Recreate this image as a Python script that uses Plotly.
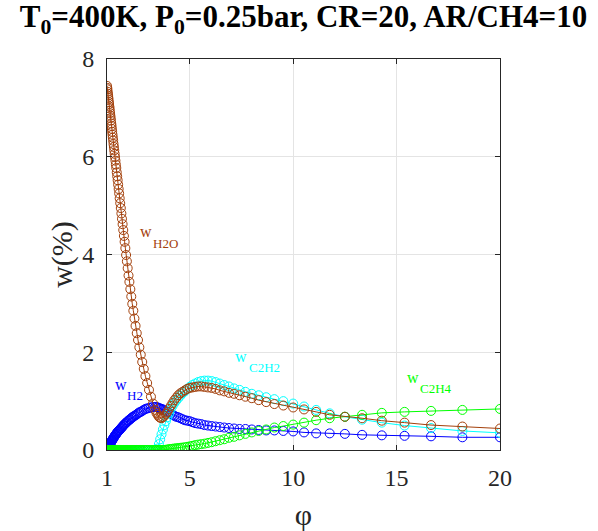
import plotly.graph_objects as go

# equivalence ratio grid (decreasing)
phi = [20, 18.182, 16.667, 15.385, 14.286, 13.333, 12.5, 11.765, 11.111, 10.526,
       10, 9.524, 9.091, 8.696, 8.333, 8, 7.692, 7.407, 7.143, 6.897,
       6.667, 6.452, 6.25, 6.061, 5.882, 5.714, 5.556, 5.405, 5.263, 5.128,
       5, 4.878, 4.762, 4.651, 4.545, 4.444, 4.348, 4.255, 4.167, 4.082,
       4, 3.922, 3.846, 3.774, 3.704, 3.636, 3.571, 3.509, 3.448, 3.390,
       3.333, 3.226, 3.125, 3.030, 2.941, 2.857, 2.778, 2.703, 2.632, 2.564,
       2.5, 2.439, 2.381, 2.326, 2.273, 2.222, 2.174, 2.128, 2.083, 2.041,
       2, 1.961, 1.923, 1.887, 1.852, 1.818, 1.786, 1.754, 1.724, 1.695,
       1.667, 1.639, 1.613, 1.587, 1.563, 1.538, 1.515, 1.493, 1.471, 1.449,
       1.429, 1.408, 1.389, 1.370, 1.351, 1.333, 1.316, 1.299, 1.282, 1.266,
       1.25, 1.235, 1.220, 1.205, 1.190, 1.176, 1.163, 1.149, 1.136, 1.124,
       1.111, 1.099, 1.087, 1.075, 1.064, 1.053, 1.042, 1.031, 1.020, 1.010,
       1]

w_h2o = [0.44, 0.48, 0.51, 0.56, 0.60, 0.65, 0.68, 0.72, 0.78, 0.83,
         0.87, 0.91, 0.94, 0.98, 1.02, 1.06, 1.09, 1.12, 1.15, 1.17,
         1.20, 1.22, 1.25, 1.27, 1.28, 1.29, 1.30, 1.30, 1.29, 1.28,
         1.27, 1.25, 1.22, 1.19, 1.16, 1.12, 1.07, 1.02, 0.96, 0.90,
         0.84, 0.78, 0.74, 0.70, 0.67, 0.65, 0.66, 0.68, 0.72, 0.76,
         0.82, 0.95, 1.09, 1.23, 1.37, 1.51, 1.66, 1.80, 1.95, 2.10,
         2.25, 2.39, 2.54, 2.69, 2.85, 2.99, 3.14, 3.29, 3.44, 3.57,
         3.72, 3.86, 3.99, 4.13, 4.26, 4.38, 4.50, 4.62, 4.73, 4.84,
         4.95, 5.05, 5.15, 5.25, 5.34, 5.43, 5.52, 5.60, 5.68, 5.77,
         5.84, 5.92, 5.99, 6.06, 6.13, 6.20, 6.26, 6.33, 6.39, 6.45,
         6.51, 6.57, 6.63, 6.68, 6.74, 6.79, 6.84, 6.89, 6.94, 6.99,
         7.03, 7.08, 7.12, 7.17, 7.21, 7.25, 7.29, 7.33, 7.38, 7.41,
         7.45]

w_h2 = [0.26, 0.26, 0.28, 0.29, 0.30, 0.31, 0.33, 0.34, 0.34, 0.36,
        0.38, 0.39, 0.40, 0.40, 0.41, 0.42, 0.43, 0.43, 0.44, 0.45,
        0.46, 0.47, 0.48, 0.49, 0.50, 0.51, 0.53, 0.54, 0.55, 0.57,
        0.59, 0.60, 0.61, 0.63, 0.65, 0.67, 0.68, 0.70, 0.72, 0.74,
        0.76, 0.78, 0.80, 0.81, 0.83, 0.84, 0.85, 0.86, 0.87, 0.88,
        0.88, 0.88, 0.87, 0.86, 0.85, 0.84, 0.82, 0.80, 0.78, 0.77,
        0.75, 0.73, 0.71, 0.70, 0.68, 0.67, 0.65, 0.63, 0.62, 0.60,
        0.59, 0.57, 0.56, 0.54, 0.53, 0.51, 0.50, 0.48, 0.47, 0.45,
        0.44, 0.43, 0.41, 0.40, 0.39, 0.38, 0.37, 0.36, 0.34, 0.33,
        0.32, 0.31, 0.30, 0.28, 0.27, 0.26, 0.25, 0.24, 0.22, 0.21,
        0.20, 0.19, 0.18, 0.17, 0.15, 0.14, 0.13, 0.12, 0.11, 0.10,
        0.09, 0.08, 0.07, 0.06, 0.05, 0.04, 0.03, 0.02, 0.01, 0.005,
        0.0]

w_c2h2 = [0.35, 0.39, 0.45, 0.50, 0.56, 0.62, 0.68, 0.75, 0.82, 0.89,
          0.95, 1.00, 1.04, 1.08, 1.12, 1.15, 1.19, 1.23, 1.26, 1.30,
          1.33, 1.36, 1.39, 1.41, 1.42, 1.42, 1.41, 1.39, 1.36, 1.33,
          1.29, 1.25, 1.20, 1.16, 1.11, 1.06, 1.01, 0.96, 0.90, 0.83,
          0.75, 0.67, 0.59, 0.51, 0.42, 0.32, 0.22, 0.12, 0.03, 0.0,
          0.0, 0.0, 0.0, 0.0, 0.0, 0.0, 0.0, 0.0, 0.0, 0.0,
          0.0, 0.0, 0.0, 0.0, 0.0, 0.0, 0.0, 0.0, 0.0, 0.0,
          0.0, 0.0, 0.0, 0.0, 0.0, 0.0, 0.0, 0.0, 0.0, 0.0,
          0.0, 0.0, 0.0, 0.0, 0.0, 0.0, 0.0, 0.0, 0.0, 0.0,
          0.0, 0.0, 0.0, 0.0, 0.0, 0.0, 0.0, 0.0, 0.0, 0.0,
          0.0, 0.0, 0.0, 0.0, 0.0, 0.0, 0.0, 0.0, 0.0, 0.0,
          0.0, 0.0, 0.0, 0.0, 0.0, 0.0, 0.0, 0.0, 0.0, 0.0,
          0.0]

w_c2h4 = [0.84, 0.82, 0.80, 0.78, 0.76, 0.72, 0.68, 0.65, 0.61, 0.56,
          0.52, 0.49, 0.46, 0.42, 0.39, 0.36, 0.33, 0.30, 0.27, 0.25,
          0.22, 0.20, 0.18, 0.16, 0.145, 0.13, 0.12, 0.11, 0.10, 0.085,
          0.075, 0.065, 0.055, 0.05, 0.045, 0.04, 0.035, 0.03, 0.025, 0.02,
          0.015, 0.01, 0.005, 0.0, 0.0, 0.0, 0.0, 0.0, 0.0, 0.0,
          0.0, 0.0, 0.0, 0.0, 0.0, 0.0, 0.0, 0.0, 0.0, 0.0,
          0.0, 0.0, 0.0, 0.0, 0.0, 0.0, 0.0, 0.0, 0.0, 0.0,
          0.0, 0.0, 0.0, 0.0, 0.0, 0.0, 0.0, 0.0, 0.0, 0.0,
          0.0, 0.0, 0.0, 0.0, 0.0, 0.0, 0.0, 0.0, 0.0, 0.0,
          0.0, 0.0, 0.0, 0.0, 0.0, 0.0, 0.0, 0.0, 0.0, 0.0,
          0.0, 0.0, 0.0, 0.0, 0.0, 0.0, 0.0, 0.0, 0.0, 0.0,
          0.0, 0.0, 0.0, 0.0, 0.0, 0.0, 0.0, 0.0, 0.0, 0.0,
          0.0]

x_ticks = [1, 5, 10, 15, 20]
y_ticks = [0, 2, 4, 6, 8]

BROWN = "#a3400b"
BLUE = "#0000ff"
CYAN = "#00ffff"
GREEN = "#00ff00"
FONT = "Liberation Serif, Times New Roman, serif"
AX = "#262626"

series = [
    ("H2", w_h2, BLUE),
    ("C2H2", w_c2h2, CYAN),
    ("C2H4", w_c2h4, GREEN),
    ("H2O", w_h2o, BROWN),
]

fig = go.Figure()
for name, ys, col in series:
    fig.add_trace(go.Scatter(
        x=phi, y=ys, mode="lines+markers", name=name,
        line=dict(color=col, width=1),
        marker=dict(symbol="circle-open", size=9, color=col, line=dict(width=1, color=col)),
        showlegend=False,
    ))

# in-plot labels: (main "w" position, subscript position, subscript text, colour)
labels = [
    (2.50, 4.47, 3.13, 4.23, "H2O", BROWN),
    (1.29, 1.35, 1.87, 1.12, "H2", BLUE),
    (7.09, 1.91, 7.77, 1.68, "C2H2", CYAN),
    (15.41, 1.49, 16.04, 1.26, "C2H4", GREEN),
]
for wx, wy, sx, sy, sub, col in labels:
    fig.add_annotation(x=wx, y=wy, xref="x", yref="y", text="w", showarrow=False,
                       xanchor="left", yanchor="middle",
                       font=dict(family=FONT, size=16, color=col))
    fig.add_annotation(x=sx, y=sy, xref="x", yref="y", text=sub, showarrow=False,
                       xanchor="left", yanchor="middle",
                       font=dict(family=FONT, size=13, color=col))

fig.update_layout(
    width=598, height=531,
    margin=dict(l=107, r=98, t=59, b=81, autoexpand=False),
    paper_bgcolor="white", plot_bgcolor="white",
    title=dict(text="<b>T<sub>0</sub>=400K, P<sub>0</sub>=0.25bar, CR=20, AR/CH4=10</b>",
               x=0.5, xref="paper", xanchor="center",
               y=0.99, yref="container", yanchor="top",
               font=dict(family=FONT, size=31, color="black")),
    font=dict(family=FONT, color=AX),
)
fig.update_xaxes(
    range=[1, 20], tickvals=x_ticks, ticktext=[str(t) for t in x_ticks],
    showgrid=True, gridcolor="#e4e4e4", gridwidth=1,
    showline=True, linecolor=AX, linewidth=1, mirror="ticks",
    ticks="inside", ticklen=5, tickcolor=AX, tickwidth=1,
    tickfont=dict(family=FONT, size=24, color=AX),
    ticklabelstandoff=6, zeroline=False, automargin=False,
    title=dict(text="φ", font=dict(family=FONT, size=30, color=AX), standoff=14),
)
fig.update_yaxes(
    range=[0, 8], tickvals=y_ticks, ticktext=[str(t) for t in y_ticks],
    showgrid=True, gridcolor="#e4e4e4", gridwidth=1,
    showline=True, linecolor=AX, linewidth=1, mirror="ticks",
    ticks="inside", ticklen=5, tickcolor=AX, tickwidth=1,
    tickfont=dict(family=FONT, size=24, color=AX),
    ticklabelstandoff=7, zeroline=False, automargin=False,
    title=dict(text="w(%)", font=dict(family=FONT, size=30, color=AX), standoff=0),
)

fig.write_html("out.html")
